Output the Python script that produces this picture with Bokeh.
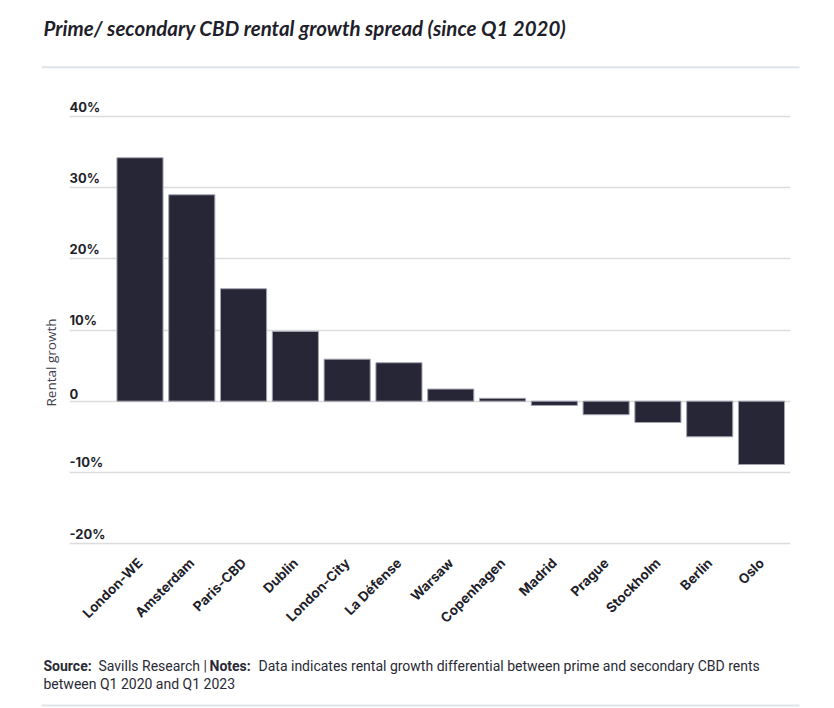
import math
from bokeh.plotting import figure
from bokeh.layouts import column, row
from bokeh.models import ColumnDataSource, Range1d, FixedTicker, BoxAnnotation
from bokeh.core.properties import value
from bokeh.embed import file_html
from bokeh.resources import INLINE

# ---- data ----
cities = ["London-WE", "Amsterdam", "Paris-CBD", "Dublin", "London-City", "La Défense",
          "Warsaw", "Copenhagen", "Madrid", "Prague", "Stockholm", "Berlin", "Oslo"]
growth = [34.2, 29.0, 15.8, 9.8, 5.9, 5.4, 1.7, 0.4, -0.6, -1.9, -3.0, -5.0, -8.9]
y_ticks = [-20, -10, 0, 10, 20, 30, 40]
y_tick_labels = ["-20%", "-10%", "0", "10%", "20%", "30%", "40%"]

title_text = "Prime/ secondary CBD rental growth spread (since Q1 2020)"
y_title = "Rental growth"
foot_parts = ["Source:", "Savills Research |", "Notes:",
              "Data indicates rental growth differential between prime and secondary CBD rents",
              "between Q1 2020 and Q1 2023"]

DARK = "#262637"
TXT = "#1f1f2b"
RULE = "#dfe4ea"
W = 834
LW = 69          # width of the strip left of the chart frame


def blank(width, height, top, left=0):
    f = figure(width=width, height=height, output_backend="svg", toolbar_location=None,
               title=None, x_range=Range1d(left, left + width),
               y_range=Range1d(top + height, top),
               x_axis_type=None, y_axis_type=None, min_border=0)
    f.outline_line_color = None
    f.grid.visible = False
    f.frame_align = False
    return f


# ---------------- header ----------------
HH = 90
hdr = blank(W, HH, 0)
hdr.text(x=[43], y=[27], text=[title_text], text_align="left", text_baseline="alphabetic",
         text_font=value("Lato"), text_font_style="bold italic", text_font_size="20.5px",
         text_color=TXT)
hdr.add_layout(BoxAnnotation(left=41, right=799, top=65.8, bottom=67.8,
                             fill_color=RULE, fill_alpha=1, line_color=None))

# ---------------- main chart ----------------
MH = 555
x_pos = list(range(len(cities)))
src = ColumnDataSource(dict(x=x_pos, top=growth, name=cities))

X0, X1 = -1.361, 12.56
Y0, Y1 = -20.281, 42.951

p = figure(width=W - LW, height=MH, output_backend="svg", toolbar_location=None,
           title=None, x_range=Range1d(X0, X1), y_range=Range1d(Y0, Y1),
           min_border_left=0, min_border_right=44, min_border_top=5, min_border_bottom=100)
p.outline_line_color = None
p.frame_align = False

p.vbar(x="x", top="top", bottom=0, width=0.89, source=src,
       fill_color=DARK, line_color="#a3a3b0", line_width=1)

p.xgrid.visible = False
p.ygrid.ticker = FixedTicker(ticks=y_ticks)
p.ygrid.grid_line_color = "#dcdcdc"
p.ygrid.grid_line_width = 1.5
p.yaxis.visible = False

# y tick labels drawn above the gridlines
ysrc = ColumnDataSource(dict(x=[X0] * len(y_ticks), y=y_ticks, t=y_tick_labels))
p.text(x="x", y="y", text="t", source=ysrc, text_align="left", text_baseline="bottom",
       y_offset=-2, text_font=value("Inter"), text_font_style="bold",
       text_font_size="13px", text_color=TXT)

# x axis
ax = p.xaxis[0]
ax.ticker = FixedTicker(ticks=x_pos)
ax.major_label_overrides = {i: c for i, c in zip(x_pos, cities)}
ax.major_label_orientation = math.pi / 4
ax.axis_line_color = None
ax.major_tick_line_color = None
ax.minor_tick_line_color = None
ax.major_label_standoff = 9
ax.major_label_text_font = "Inter"
ax.major_label_text_font_style = "bold"
ax.major_label_text_font_size = "13.5px"
ax.major_label_text_color = TXT

# strip left of the frame holding the axis title
lft = blank(LW, MH, HH)
lft.text(x=[50], y=[362], text=[y_title], angle=math.pi / 2, text_align="center",
         text_baseline="middle", text_font=value("Open Sans"), text_font_size="13.5px",
         text_color="#40404c")

# ---------------- footer ----------------
FT = HH + MH
FH = 708 - FT
ftr = blank(W, FH, FT)
fx = [43, 98, 209, 258, 43]
fy = [665, 665, 665, 665, 683]
fst = ["bold", "normal", "bold", "normal", "normal"]
fsrc = ColumnDataSource(dict(x=fx, y=fy, t=foot_parts, s=fst))
ftr.text(x="x", y="y", text="t", text_font_style="s", source=fsrc,
         text_align="left", text_baseline="alphabetic",
         text_font=value("Roboto"), text_font_size="14px", text_color="#2a2a36")
ftr.add_layout(BoxAnnotation(left=41, right=799, top=704, bottom=706,
                             fill_color=RULE, fill_alpha=1, line_color=None))

layout = column(hdr, row(lft, p, spacing=0), ftr, spacing=0)
open("out.html", "w").write(file_html(layout, INLINE))
